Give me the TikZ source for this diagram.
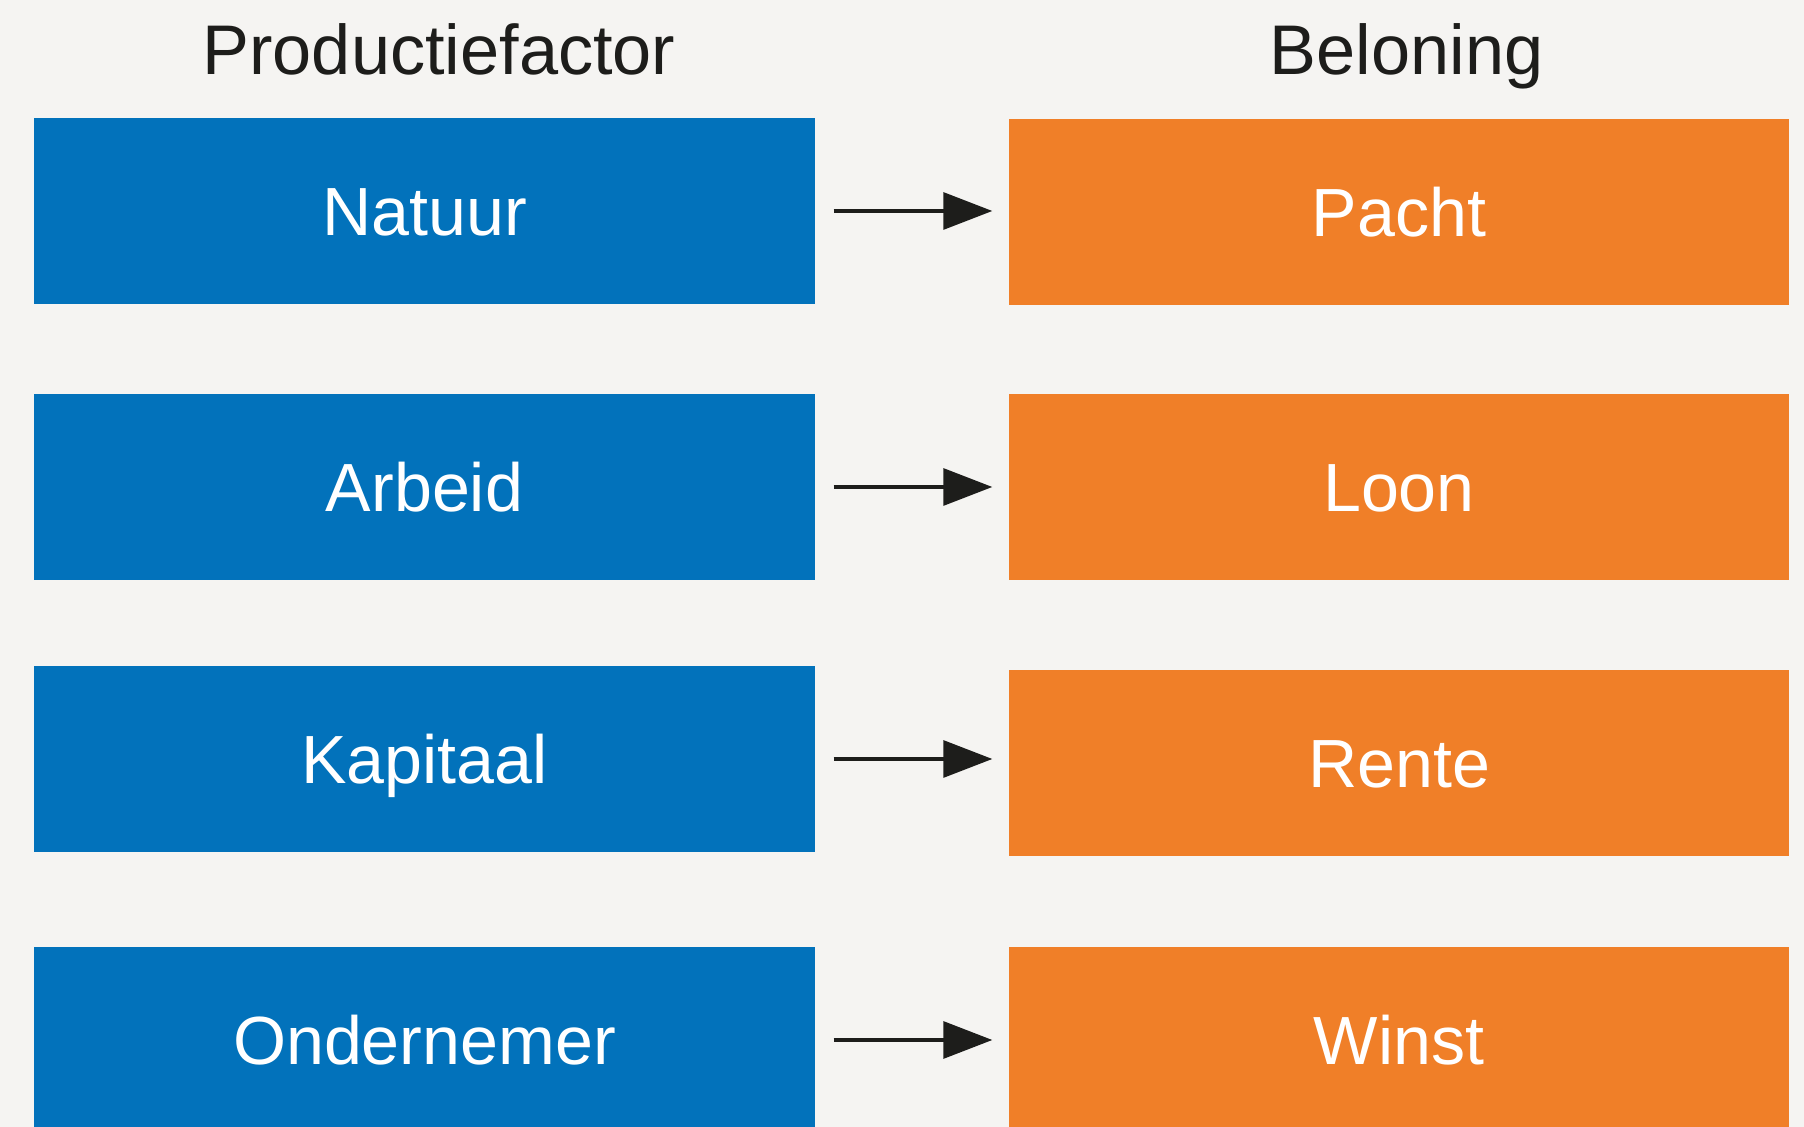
\documentclass[tikz,border=0pt]{standalone}
\usepackage{fontspec}
\setmainfont{Liberation Sans}
\usetikzlibrary{arrows.meta}
\definecolor{facblue}{RGB}{2,114,187}
\definecolor{belorange}{RGB}{240,127,40}
\definecolor{achter}{RGB}{245,244,242}
\definecolor{inkt}{RGB}{29,29,27}
\begin{document}
\begin{tikzpicture}[
    factor/.style={fill=facblue,text=white,minimum width=7.8cm,minimum height=1.86cm,inner sep=0pt,text height=13.9pt,text depth=0pt,font=\fontsize{19.4}{22}\selectfont},
    beloning/.style={factor,fill=belorange},
    kop/.style={text=inkt,anchor=base,inner sep=0pt,font=\fontsize{20}{24}\selectfont},
    pijl/.style={draw=inkt,line width=0.9pt,-{Triangle[length=0.49cm,width=0.37cm]},shorten <=0.185cm,shorten >=0.16cm}]
        \fill[achter] (0,0) rectangle (18.04,-11.27);
        \useasboundingbox (0,0) rectangle (18.04,-11.27);

        \node[kop] (kopfactor) at (4.39,-0.75) {Productiefactor};
        \node[kop] (kopbeloning) at (14.065,-0.75) {Beloning};

        \node[factor] (natuur) at (4.245,-2.11) {Natuur};
        \node[factor] (arbeid) at (4.245,-4.87) {Arbeid};
        \node[factor] (kapitaal) at (4.245,-7.59) {Kapitaal};
        \node[factor] (ondernemer) at (4.245,-10.40) {Ondernemer};

        \node[beloning] (pacht) at (13.99,-2.12) {Pacht};
        \node[beloning] (loon) at (13.99,-4.87) {Loon};
        \node[beloning] (rente) at (13.99,-7.635) {Rente};
        \node[beloning] (winst) at (13.99,-10.40) {Winst};

        \draw[pijl] (natuur.east) -- (natuur.east -| pacht.west);
        \draw[pijl] (arbeid.east) -- (arbeid.east -| loon.west);
        \draw[pijl] (kapitaal.east) -- (kapitaal.east -| rente.west);
        \draw[pijl] (ondernemer.east) -- (ondernemer.east -| winst.west);
\end{tikzpicture}
\end{document}
